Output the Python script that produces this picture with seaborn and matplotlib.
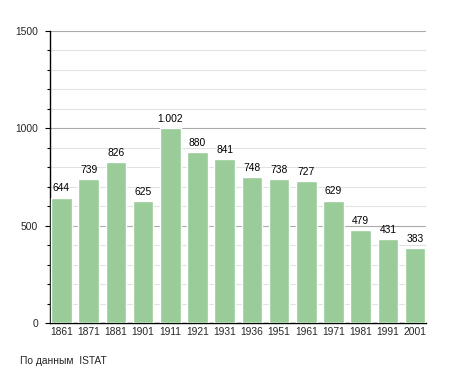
import matplotlib
matplotlib.use("Agg")
import matplotlib.pyplot as plt
import seaborn as sns
import pandas as pd
from matplotlib.ticker import MultipleLocator

years = ["1861", "1871", "1881", "1901", "1911", "1921", "1931", "1936",
         "1951", "1961", "1971", "1981", "1991", "2001"]
population = [644, 739, 826, 625, 1002, 880, 841, 748, 738, 727, 629, 479, 431, 383]
value_labels = ["644", "739", "826", "625", "1.002", "880", "841", "748",
                "738", "727", "629", "479", "431", "383"]
y_ticks = [0, 500, 1000, 1500]
source_text = "По данным  ISTAT"

df = pd.DataFrame({"year": years, "pop": population})

sns.set_style("white")
plt.rcParams['font.family'] = ['Liberation Sans', 'DejaVu Sans']

FS = 7.4
fig = plt.figure(figsize=(4.55, 3.73), dpi=100)
ax = fig.add_axes([50/455, 1-323/373, 376/455, 292/373])

sns.barplot(data=df, x="year", y="pop", color="#99cc99", saturation=1,
            width=0.76, ax=ax, zorder=3)

ax.set_ylim(0, 1500)
ax.set_xlim(-0.42, 13.4)
ax.set_yticks(y_ticks)
ax.yaxis.set_minor_locator(MultipleLocator(100))
ax.grid(True, which="major", axis="y", color="#aaaaaa", linewidth=0.8, zorder=0)
ax.grid(True, which="minor", axis="y", color="#e2e2e2", linewidth=0.8, zorder=0)
ax.set_axisbelow(True)

for s in ["top", "right"]:
    ax.spines[s].set_visible(False)
for s in ["left", "bottom"]:
    ax.spines[s].set_color("black")
    ax.spines[s].set_linewidth(1.0)

ax.tick_params(axis="y", which="major", length=3.6, width=0.8, color="black",
               labelsize=FS, pad=5, left=True)
ax.tick_params(axis="y", which="minor", length=2, width=0.8, color="black", left=True)
ax.tick_params(axis="x", which="major", length=0, labelsize=FS, pad=3)
ax.set_xlabel("")
ax.set_ylabel("")

for i, (v, lab) in enumerate(zip(population, value_labels)):
    ax.annotate(lab, (i, v), xytext=(0, 3), textcoords="offset points",
                ha="center", va="bottom", fontsize=FS, color="black")

fig.text(20/455, 1-361/373, source_text, fontsize=FS, ha="left", va="center")

fig.savefig("out.png", dpi=100)
